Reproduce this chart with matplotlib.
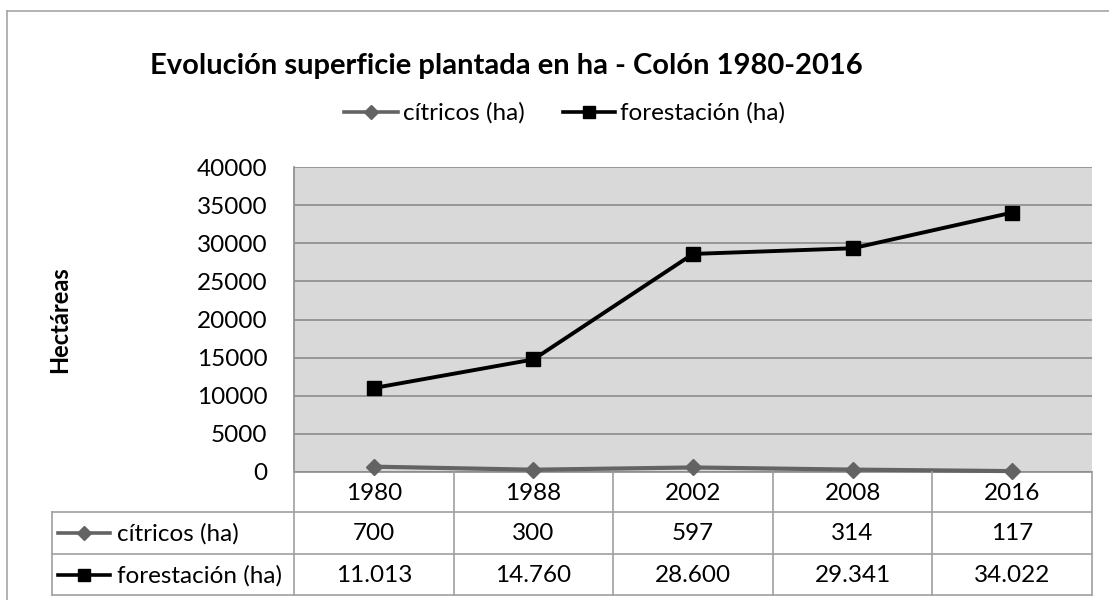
import matplotlib
matplotlib.use("Agg")
import matplotlib.pyplot as plt

plt.rcParams['font.family'] = ['Lato', 'DejaVu Sans']

years = ['1980', '1988', '2002', '2008', '2016']
citricos = [700, 300, 597, 314, 117]
forestacion = [11013, 14760, 28600, 29341, 34022]
series_names = ['cítricos (ha)', 'forestación (ha)']
yticks = list(range(0, 40001, 5000))

W, H = 1109, 600
fs = 17.5
fig = plt.figure(figsize=(W / 100, H / 100), dpi=100)

# plot area in pixel coords
px_l, px_r, px_t, px_b = 294, 1092, 167, 472
ax = fig.add_axes([px_l / W, 1 - px_b / H, (px_r - px_l) / W, (px_b - px_t) / H])
ax.set_facecolor('#d9d9d9')
ax.set_xlim(-0.5, len(years) - 0.5)
ax.set_ylim(0, 40000)
ax.set_yticks(yticks)
ax.set_yticklabels([str(v) for v in yticks])
ax.set_xticks([])
ax.tick_params(axis='y', length=0, pad=19, labelsize=fs)
ax.grid(axis='y', color='#8c8c8c', lw=1.2)
ax.set_axisbelow(True)
for s in ['top', 'right']:
    ax.spines[s].set_visible(False)
for s in ['left', 'bottom']:
    ax.spines[s].set_color('#8c8c8c')
    ax.spines[s].set_linewidth(1.2)

styles = [dict(color='#636363', marker='D', ms=8, lw=3),
          dict(color='black', marker='s', ms=10, lw=2.8)]

xs = range(len(years))
ax.plot(xs, citricos, clip_on=False, zorder=3, **styles[0])
ax.plot(xs, forestacion, clip_on=False, zorder=4, **styles[1])

# overlay in pixel coords for title, legend, table, frame
ov = fig.add_axes([0, 0, 1, 1], facecolor='none')
ov.set_xlim(0, W)
ov.set_ylim(H, 0)
ov.axis('off')

# outer chart frame
ov.plot([7, 7], [11, H], color='#a6a6a6', lw=1.2)
ov.plot([7, W], [11, 11], color='#a6a6a6', lw=1.2)

ov.text(506, 74, 'Evolución superficie plantada en ha - Colón 1980-2016',
        ha='center', va='baseline', fontsize=21, fontweight='bold')
ov.text(60, (px_t + px_b) / 2, 'Hectáreas', rotation=90, ha='center', va='center',
        fontsize=17, fontweight='bold')

key_styles = [dict(color='#636363', marker='D', ms=7, lw=2.6),
              dict(color='black', marker='s', ms=8.5, lw=2.6)]


def key(x0, x1, y, st):
    ov.plot([x0, x1], [y, y], color=st['color'], lw=st['lw'])
    ov.plot([(x0 + x1) / 2], [y], color=st['color'], marker=st['marker'], ms=st['ms'], lw=0)

# legend
key(344, 398, 112, key_styles[0])
ov.text(403, 113, series_names[0], ha='left', va='center', fontsize=fs)
key(563, 615, 112, key_styles[1])
ov.text(620, 113, series_names[1], ha='left', va='center', fontsize=fs)

# data table
gc = '#a0a0a0'
ncol = len(years)
cw = (px_r - px_l) / ncol
cols = [px_l + i * cw for i in range(ncol + 1)]
r0, r1, r2, r3 = 472, 512, 554, 595
tl = 52
for x in cols:
    ov.plot([x, x], [r0, r3], color=gc, lw=1.2)
ov.plot([tl, tl], [r1, r3], color=gc, lw=1.2)
for y in [r1, r2, r3]:
    ov.plot([tl, px_r], [y, y], color=gc, lw=1.2)


def fmt(v):
    return f'{v:,}'.replace(',', '.')

for i, yr in enumerate(years):
    cx = px_l + (i + 0.5) * cw
    ov.text(cx, (r0 + r1) / 2 + 1, yr, ha='center', va='center', fontsize=fs)
    ov.text(cx, (r1 + r2) / 2 + 1, fmt(citricos[i]), ha='center', va='center', fontsize=fs)
    ov.text(cx, (r2 + r3) / 2 + 1, fmt(forestacion[i]), ha='center', va='center', fontsize=fs)

key(58, 110, (r1 + r2) / 2, key_styles[0])
ov.text(117, (r1 + r2) / 2 + 1, series_names[0], ha='left', va='center', fontsize=fs)
key(58, 110, (r2 + r3) / 2, key_styles[1])
ov.text(117, (r2 + r3) / 2 + 1, series_names[1], ha='left', va='center', fontsize=fs)

fig.savefig('out.png', dpi=100)
